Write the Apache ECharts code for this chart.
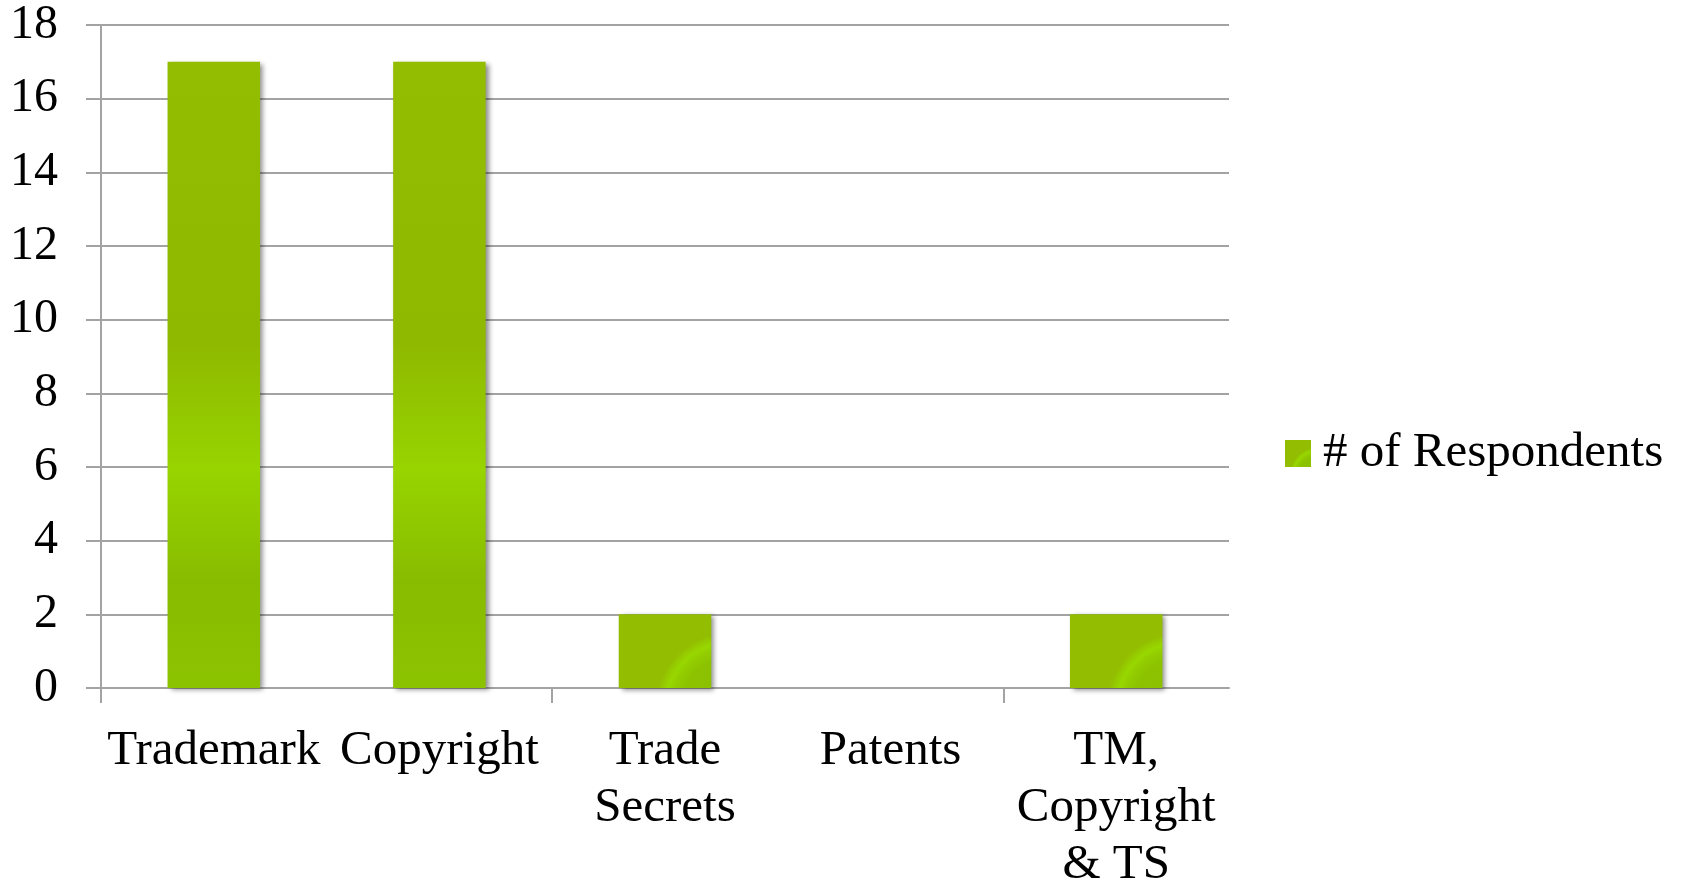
<!DOCTYPE html>
<html>
<head>
<meta charset="utf-8">
<style>
  html, body { margin: 0; padding: 0; background: #ffffff; }
  #chart { width: 1700px; height: 884px; }
</style>
<script src="https://cdn.jsdelivr.net/npm/echarts@6/dist/echarts.min.js"></script>
</head>
<body>
<div id="chart"></div>
<script>
// IP protection types and how many respondents chose each
const categories = ['Trademark', 'Copyright', 'Trade\nSecrets', 'Patents', 'TM,\nCopyright\n& TS'];
const respondents = [17, 17, 2, 0, 2];
const seriesName = '# of Respondents';
const yTicks = { min: 0, max: 18, interval: 2 };
// Category boundaries, used only to place the bottom tick marks (every second one)
const boundaries = categories.map((_, i) => String(i)).concat(String(categories.length));

const FONT = '"Liberation Serif", "DejaVu Serif", serif';
const GRID_COLOR = '#a3a3a3';

// Tall bars: vertical sheen with a bright band in the lower half
const tallFill = new echarts.graphic.LinearGradient(0, 0, 0, 1, [
  { offset: 0.00, color: '#93bd00' },
  { offset: 0.45, color: '#8fb900' },
  { offset: 0.65, color: '#97d400' },
  { offset: 0.83, color: '#88bc00' },
  { offset: 1.00, color: '#8cc300' }
]);
// Short bars: soft curved highlight ring toward the lower right
function ringFill() {
  return new echarts.graphic.RadialGradient(1.2, 1.25, 1.0, [
    { offset: 0.00, color: '#8abf00' },
    { offset: 0.65, color: '#8cc200' },
    { offset: 0.78, color: '#92cc00' },
    { offset: 0.87, color: '#98d700' },
    { offset: 0.96, color: '#94c600' },
    { offset: 1.00, color: '#93bd00' }
  ]);
}

const barData = respondents.map(v => ({
  value: v,
  itemStyle: { color: v > 5 ? tallFill : ringFill() }
}));

const chart = echarts.init(document.getElementById('chart'), null, { renderer: 'canvas' });
chart.setOption({
  animation: false,
  backgroundColor: '#ffffff',
  textStyle: { fontFamily: FONT, color: '#000' },
  grid: {
    left: 101, right: 471, top: 25, bottom: 196,
    containLabel: false, outerBoundsMode: 'none'
  },
  legend: {
    left: 1285,
    top: 429,
    padding: 0,
    orient: 'vertical',
    itemWidth: 26,
    itemHeight: 27,
    icon: 'rect',
    data: [{ name: seriesName, itemStyle: { color: ringFill() } }],
    textStyle: {
      fontFamily: FONT, fontSize: 49, color: '#000',
      lineHeight: 27, padding: [12, 0, 0, 7]
    }
  },
  xAxis: [{
    type: 'category',
    position: 'bottom',
    data: categories,
    axisLine: { show: true, lineStyle: { color: GRID_COLOR, width: 2 } },
    axisTick: { show: false },
    axisLabel: {
      interval: 0, hideOverlap: false, margin: 35,
      fontFamily: FONT, fontSize: 49, color: '#000', lineHeight: 57, align: 'center'
    },
    splitLine: { show: false }
  }, {
    type: 'category',
    position: 'bottom',
    boundaryGap: false,
    data: boundaries,
    axisLine: { show: false },
    axisTick: {
      show: true, length: 15,
      interval: (i) => i % 2 === 0 && i < categories.length,
      lineStyle: { color: GRID_COLOR, width: 2 }
    },
    axisLabel: { show: false },
    splitLine: { show: false }
  }],
  yAxis: {
    type: 'value',
    min: yTicks.min, max: yTicks.max, interval: yTicks.interval,
    axisLine: { show: true, lineStyle: { color: GRID_COLOR, width: 2 } },
    axisTick: { show: true, length: 15, lineStyle: { color: GRID_COLOR, width: 2 } },
    axisLabel: {
      margin: 43, fontFamily: FONT, fontSize: 48, color: '#000',
      padding: [6, 0, 0, 0]
    },
    splitLine: { show: true, lineStyle: { color: GRID_COLOR, width: 2 } }
  },
  series: [{
    name: seriesName,
    type: 'bar',
    xAxisIndex: 0,
    data: barData,
    barCategoryGap: '59%',
    itemStyle: {
      shadowColor: 'rgba(0,0,0,0.45)',
      shadowBlur: 5,
      shadowOffsetX: 3,
      shadowOffsetY: 2
    }
  }]
});
</script>
</body>
</html>
